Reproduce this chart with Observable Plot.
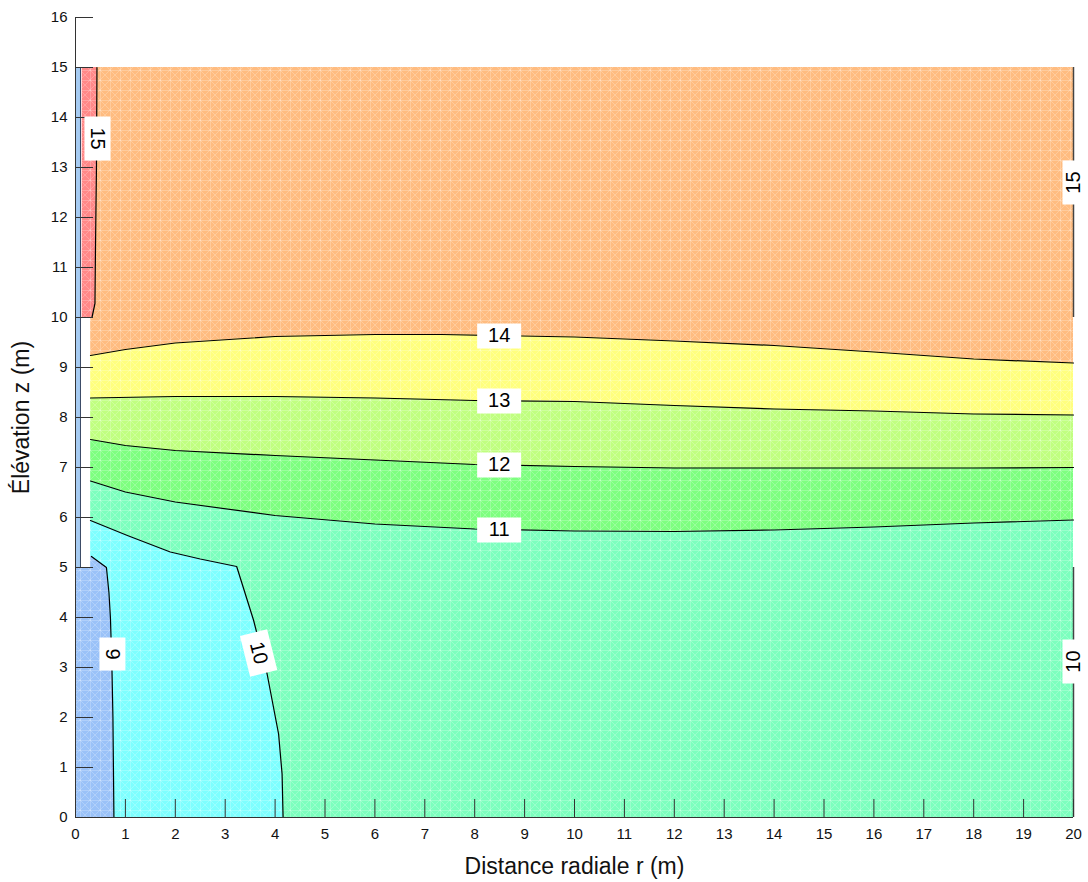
<!DOCTYPE html>
<html>
<head>
<meta charset="utf-8">
<script src="https://cdn.jsdelivr.net/npm/d3@7"></script>
<script src="https://cdn.jsdelivr.net/npm/@observablehq/plot@0.6"></script>
<style>
  html, body { margin: 0; padding: 0; background: #fff; }
</style>
</head>
<body>
<div id="chart"></div>
<script>
// ---------- DATA ----------
const xTickValues = [0,1,2,3,4,5,6,7,8,9,10,11,12,13,14,15,16,17,18,19,20];
const yTickValues = [0,1,2,3,4,5,6,7,8,9,10,11,12,13,14,15,16];

// model geometry (m)
const wellRadius = 0.3;
const casingRadius = 0.1;
const domainRadius = 20;
const domainTop = 15;
const screenBottom = 5;
const screenTop = 15;
const seepageInner = 0.134;

// contour lines [r (m), z (m)]
const contour9  = [[0.77,0],[0.76,1],[0.75,2],[0.73,3],[0.70,4],[0.67,4.5],[0.62,5.0],[0.32,5.22]];
const contour10 = [[4.16,0],[4.14,0.87],[4.07,1.67],[3.84,2.87],[3.57,3.94],[3.23,5.02],[2.5,5.17],[1.9,5.31],[1.04,5.64],[0.3,5.94]];
const contour11 = [[0.3,6.73],[1,6.51],[2,6.31],[4,6.04],[6,5.87],[8,5.77],[10,5.73],[12,5.72],[14,5.75],[16,5.81],[18,5.89],[20,5.95]];
const contour12 = [[0.3,7.56],[1,7.44],[2,7.34],[4,7.24],[6,7.15],[8,7.06],[10,7.02],[12,6.99],[14,6.99],[16,6.99],[18,6.99],[20,7.0]];
const contour13 = [[0.3,8.39],[2,8.42],[4,8.42],[6,8.39],[8,8.34],[10,8.32],[12,8.24],[14,8.17],[16,8.13],[18,8.07],[20,8.05]];
const contour14 = [[0.3,9.24],[1,9.36],[2,9.49],[4,9.62],[6,9.66],[7.35,9.66],[10,9.61],[12,9.53],[14,9.44],[16,9.31],[18,9.17],[20,9.09]];
const contour15 = [[0.33,10.0],[0.39,10.28],[0.40,11.34],[0.42,13.0],[0.43,15.0]];

// fixed-head boundary segments at r = 20 m
const boundaryR  = [20, 20];
const boundaryZ1 = [10, 0];
const boundaryZ2 = [15, 5];

// contour labels
const labelText = ["14","13","12","11","15","9","10","15","10"];
const labelR    = [8.49, 8.49, 8.49, 8.49, 0.44, 0.74, 3.67, 20, 20];
const labelZ    = [9.63, 8.33, 7.05, 5.75, 13.58, 3.27, 3.29, 12.7, 3.12];

// ---------- STYLE ----------
const labelAngle = [0,0,0,0,90,90,76,-90,-90];
const labelBox   = [[44,25],[44,25],[44,25],[44,25],[44,26],[33,26],[42,28],[44,22],[44,22]];
const colors = {
  c15: "#FF8888", c14: "#FFBC80", c13: "#FFFF7E", c12: "#C0FF80",
  c11: "#7EFF80", c10: "#7CFFBE", c9: "#7EFFFF", c8: "#9AC2F8",
  casing: "#A6CBF2"
};

const pts = a => a.map(([r, z]) => ({r, z}));
const byZ = a => pts(a).sort((p, q) => p.z - q.z);

function boxSymbol(w, h, deg) {
  const t = deg * Math.PI / 180, c = Math.cos(t), s = Math.sin(t);
  const corners = [[-w/2,-h/2],[w/2,-h/2],[w/2,h/2],[-w/2,h/2]]
    .map(([x, y]) => [x * c - y * s, x * s + y * c]);
  return {
    draw(ctx) {
      ctx.moveTo(corners[0][0], corners[0][1]);
      for (let i = 1; i < corners.length; i++) ctx.lineTo(corners[i][0], corners[i][1]);
      ctx.closePath();
    }
  };
}

const labels = labelText.map((t, i) => ({t, r: labelR[i], z: labelZ[i], a: labelAngle[i], box: labelBox[i]}));
const boundaries = boundaryR.map((r, i) => ({r, z1: boundaryZ1[i], z2: boundaryZ2[i]}));

const lineStyle = {x: "r", y: "z", stroke: "#000", strokeWidth: 1.2};
const hatch = "url(#hatch)";

const chart = Plot.plot({
  width: 1088,
  height: 882,
  marginLeft: 75,
  marginRight: 15,
  marginTop: 17,
  marginBottom: 65,
  x: {domain: [0, 20]},
  y: {domain: [0, 16]},
  style: {fontFamily: "'Liberation Sans', Arial, sans-serif", fontSize: "15px", color: "#111", background: "#fff"},
  marks: [
    // filled head zones (painter's order)
    Plot.rect([{}], {x1: wellRadius, x2: domainRadius, y1: 0, y2: domainTop, fill: colors.c10}),
    Plot.areaY(pts(contour11), {x: "r", y1: "z", y2: domainTop, fill: colors.c11}),
    Plot.areaY(pts(contour12), {x: "r", y1: "z", y2: domainTop, fill: colors.c12}),
    Plot.areaY(pts(contour13), {x: "r", y1: "z", y2: domainTop, fill: colors.c13}),
    Plot.areaY(pts(contour14), {x: "r", y1: "z", y2: domainTop, fill: colors.c14}),
    Plot.areaX(byZ(contour10), {y: "z", x1: wellRadius, x2: "r", fill: colors.c9}),
    Plot.areaX(byZ(contour9), {y: "z", x1: 0, x2: "r", fill: colors.c8}),
    // texture of the filled zones
    Plot.rect([{}], {x1: wellRadius, x2: domainRadius, y1: 0, y2: domainTop, fill: hatch}),
    Plot.rect([{}], {x1: 0, x2: wellRadius, y1: 0, y2: screenBottom, fill: hatch}),
    // well
    Plot.rect([{}], {x1: casingRadius, x2: wellRadius, y1: screenBottom, y2: screenTop, fill: "#fff"}),
    Plot.rect([{}], {x1: 0, x2: casingRadius, y1: screenBottom, y2: screenTop, fill: colors.casing}),
    Plot.areaX(byZ(contour15), {y: "z", x1: seepageInner, x2: "r", fill: colors.c15}),
    Plot.areaX(byZ(contour15), {y: "z", x1: seepageInner, x2: "r", fill: hatch}),
    Plot.ruleX([casingRadius], {y1: screenBottom, y2: screenTop, stroke: "#3a4a66", strokeWidth: 1}),
    // contour lines
    Plot.line(pts(contour9), lineStyle),
    Plot.line(pts(contour10), lineStyle),
    Plot.line(pts(contour11), lineStyle),
    Plot.line(pts(contour12), lineStyle),
    Plot.line(pts(contour13), lineStyle),
    Plot.line(pts(contour14), lineStyle),
    Plot.line(pts(contour15), lineStyle),
    // boundary segments
    Plot.ruleX(boundaries, {x: "r", y1: "z1", y2: "z2", stroke: "#444", strokeWidth: 1.5}),
    // axes
    Plot.ruleX(xTickValues, {x: d => d, insetTop: 782, stroke: "#333", strokeWidth: 1}),
    Plot.ruleY(yTickValues, {y: d => d, insetRight: 980, stroke: "#333", strokeWidth: 1}),
    Plot.ruleX([0], {stroke: "#333", strokeWidth: 1}),
    Plot.ruleY([0], {stroke: "#333", strokeWidth: 1}),
    Plot.axisX({ticks: xTickValues, tickSize: 0, tickPadding: 11, label: null, fontSize: 15}),
    Plot.axisY({ticks: yTickValues, tickSize: 0, tickPadding: 8, label: null, fontSize: 15}),
    Plot.text(["Distance radiale r (m)"], {text: d => d, frameAnchor: "bottom", lineAnchor: "middle", textAnchor: "middle", dy: 49, fontSize: 23, fill: "#111"}),
    Plot.text(["Élévation z (m)"], {text: d => d, frameAnchor: "left", textAnchor: "middle", lineAnchor: "middle", dx: -54, rotate: -90, fontSize: 23, fill: "#111"}),
    // contour labels
    ...labels.map(l => Plot.dot([l], {x: "r", y: "z", r: 10, symbol: boxSymbol(l.box[0], l.box[1], l.a), fill: "#fff", stroke: "none"})),
    Plot.text(labels, {x: "r", y: "z", text: "t", rotate: "a", fontSize: 20, fill: "#000"})
  ]
});

// hatch texture definition
d3.select(chart).insert("defs", ":first-child").html(`
  <pattern id="hatch" patternUnits="userSpaceOnUse" width="10" height="10">
    <path d="M0,0.5H10M0.5,0V10M0,0L10,10M10,0L0,10" stroke="#fff" stroke-opacity="0.22" stroke-width="1" fill="none"/>
  </pattern>`);

document.getElementById("chart").appendChild(chart);
</script>
</body>
</html>
